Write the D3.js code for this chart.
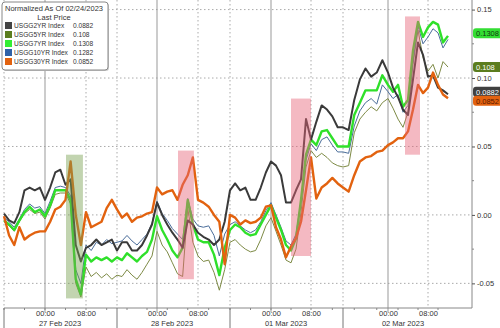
<!DOCTYPE html>
<html>
<head>
<meta charset="utf-8">
<script src="https://cdn.jsdelivr.net/npm/d3@7"></script>
<style>
  body { margin: 0; background: #fff; }
  svg { display: block; font-family: "Liberation Sans", Arial, sans-serif; }
</style>
</head>
<body>
<svg width="500" height="328"></svg>
<script>
// session hours (hourly samples, 22h trading sessions per day)
let hours = d3.range(0, 87)

let usgg2 = [0.001,-0.004,-0.006,0.002,0.018,0.020,0.018,0.020,0.011,0.020,
  0.031,0.033,0.022,0.026,-0.022,-0.034,-0.024,-0.022,-0.018,-0.022,
  -0.020,-0.018,-0.026,-0.020,-0.020,-0.026,-0.026,-0.022,-0.015,-0.007,
  0.009,0.000,-0.007,-0.013,-0.018,-0.024,-0.004,-0.007,-0.013,-0.016,
  -0.018,-0.022,-0.018,-0.005,0.018,0.023,0.018,0.020,0.011,0.011,
  0.020,0.031,0.039,0.036,0.029,0.009,0.009,0.018,0.026,0.070,
  0.055,0.068,0.080,0.077,0.072,0.064,0.064,0.062,0.084,0.099,
  0.107,0.101,0.104,0.113,0.104,0.093,0.086,0.077,0.073,0.099,
  0.126,0.117,0.101,0.102,0.093,0.091,0.0882]

let usgg5 = [-0.005,-0.008,-0.012,-0.005,0.001,0.004,0.001,0.002,-0.003,0.005,
  0.015,0.016,0.016,0.008,-0.050,-0.060,-0.038,-0.045,-0.042,-0.046,
  -0.043,-0.047,-0.044,-0.045,-0.040,-0.044,-0.047,-0.042,-0.036,-0.030,
  -0.012,-0.022,-0.027,-0.035,-0.043,-0.045,0.005,-0.020,-0.030,-0.034,
  -0.033,-0.042,-0.055,-0.040,-0.020,-0.018,-0.022,-0.025,-0.027,-0.026,
  -0.018,-0.008,-0.002,-0.012,-0.022,-0.033,-0.035,-0.025,0.002,0.035,
  0.047,0.042,0.045,0.042,0.038,0.036,0.035,0.036,0.060,0.070,
  0.075,0.079,0.076,0.082,0.085,0.078,0.070,0.064,0.075,0.110,
  0.135,0.115,0.105,0.110,0.100,0.112,0.108]

let usgg7 = [-0.004,-0.007,-0.011,-0.004,0.002,0.006,0.002,0.004,-0.001,0.007,
  0.018,0.018,0.018,0.011,-0.047,-0.058,-0.029,-0.034,-0.031,-0.033,
  -0.031,-0.034,-0.031,-0.033,-0.028,-0.031,-0.034,-0.030,-0.027,-0.018,
  -0.001,-0.011,-0.018,-0.026,-0.031,-0.024,0.011,-0.007,-0.018,-0.020,
  -0.020,-0.029,-0.044,-0.024,-0.011,-0.007,-0.009,-0.013,-0.015,-0.014,
  -0.007,0.000,0.007,-0.002,-0.011,-0.022,-0.026,-0.017,0.011,0.044,
  0.055,0.051,0.061,0.062,0.056,0.050,0.050,0.050,0.073,0.082,
  0.091,0.091,0.091,0.102,0.095,0.090,0.095,0.079,0.084,0.120,
  0.141,0.130,0.137,0.141,0.139,0.126,0.1308]

let usgg10 = [-0.002,-0.005,-0.009,-0.003,0.004,0.008,0.005,0.006,0.001,0.010,
  0.020,0.021,0.020,0.014,-0.040,-0.050,-0.022,-0.026,-0.020,-0.022,
  -0.018,-0.021,-0.020,-0.019,-0.015,-0.019,-0.022,-0.018,-0.014,-0.006,
  0.010,0.001,-0.004,-0.010,-0.014,-0.018,0.012,-0.003,-0.008,-0.009,
  -0.008,-0.015,-0.030,-0.014,-0.007,-0.005,-0.008,-0.011,-0.013,-0.011,
  -0.005,0.003,0.009,0.000,-0.009,-0.019,-0.022,-0.014,0.010,0.040,
  0.052,0.047,0.055,0.057,0.051,0.046,0.046,0.045,0.065,0.076,
  0.082,0.085,0.081,0.095,0.090,0.085,0.088,0.075,0.080,0.112,
  0.138,0.125,0.130,0.136,0.133,0.122,0.1282]

let usgg30 = [-0.001,-0.015,-0.022,-0.009,-0.018,-0.015,-0.013,-0.012,-0.012,-0.005,
  0.004,0.006,0.011,0.039,0.000,-0.022,0.002,-0.009,-0.007,-0.005,
  0.005,0.011,0.004,-0.002,0.001,-0.005,-0.002,-0.001,0.001,0.002,
  0.020,0.015,0.017,0.018,0.011,0.022,0.029,0.042,0.011,0.009,
  0.006,0.000,-0.005,-0.036,0.000,-0.002,-0.007,-0.004,-0.006,-0.005,
  -0.002,0.006,0.007,-0.009,-0.018,-0.031,-0.023,-0.017,-0.005,0.018,
  0.042,0.012,0.020,0.023,0.027,0.023,0.020,0.017,0.029,0.039,
  0.042,0.043,0.046,0.047,0.051,0.053,0.056,0.056,0.061,0.077,
  0.095,0.089,0.093,0.104,0.095,0.088,0.0852]

let dayStarts = [0, 22, 44, 66]
let midnights = [8, 30, 52, 74]
let mornings = [16, 38, 60, 82]
let dayLabels = ['27 Feb 2023', '28 Feb 2023', '01 Mar 2023', '02 Mar 2023']
let yTicks = [-0.05, 0, 0.05, 0.10, 0.15]
let yMinor = [-0.025, 0.025, 0.075, 0.125]

// shaded boxes: [hourFrom, hourTo, valueLow, valueHigh]
let boxes = [
  [12.1, 15.4, -0.061, 0.044, 'green'],
  [34.1, 37.2, -0.047, 0.047, 'pink'],
  [56.0, 60.0, -0.030, 0.085, 'pink'],
  [77.4, 80.4, 0.044, 0.145, 'pink']
]

let series = [
  { name: 'USGG5YR Index', values: usgg5, color: '#7d8a45', legend: '#5b7d1e', width: 1, tag: '#5b7d1e', text: '#fff' },
  { name: 'USGG10YR Index', values: usgg10, color: '#4a6d9a', legend: '#2f62a8', width: 1, tag: '#2f62a8', text: '#fff' },
  { name: 'USGG7YR Index', values: usgg7, color: '#2fe02a', legend: '#33ee33', width: 2.4, tag: '#33dd33', text: '#103810' },
  { name: 'USGG2YR Index', values: usgg2, color: '#3a3a3a', legend: '#444', width: 2, tag: '#404040', text: '#fff' },
  { name: 'USGG30YR Index', values: usgg30, color: '#e2620f', legend: '#e2620f', width: 2.4, tag: '#e2620f', text: '#5a1800' }
]
let legendOrder = ['USGG2YR Index', 'USGG5YR Index', 'USGG7YR Index', 'USGG10YR Index', 'USGG30YR Index']

let svg = d3.select('svg')

let x = d3.scaleLinear()
  .domain([0, 8, 16, 22, 30, 38, 44, 52, 60, 66, 74, 82, 90])
  .range([4, 45, 86, 117, 157, 198, 230, 271, 311, 343, 388, 428, 468])
let y = d3.scaleLinear().domain([-0.068, 0.157]).range([308, 0])

let plotR = 472, plotB = 308

// grid
let grid = svg.append('g')
grid.selectAll('line.h')
  .data(yTicks)
  .enter()
  .append('line')
  .attr('x1', 4).attr('x2', plotR)
  .attr('y1', d => y(d)).attr('y2', d => y(d))
  .attr('stroke', '#aaa')
  .attr('stroke-dasharray', '1.5,2.5')
grid.selectAll('line.dv')
  .data(dayStarts.concat(mornings))
  .enter()
  .append('line')
  .attr('x1', d => x(d)).attr('x2', d => x(d))
  .attr('y1', 0).attr('y2', plotB)
  .attr('stroke', '#aaa')
  .attr('stroke-dasharray', '1.5,2.5')
grid.selectAll('line.mid')
  .data(midnights)
  .enter()
  .append('line')
  .attr('x1', d => x(d)).attr('x2', d => x(d))
  .attr('y1', 0).attr('y2', plotB + 4)
  .attr('stroke', '#999')

// lines
let line = d3.line()
  .x((d, i) => x(hours[i]))
  .y(d => y(d))

svg.append('g').selectAll('path')
  .data(series)
  .enter()
  .append('path')
  .attr('d', d => line(d.values))
  .attr('fill', 'none')
  .attr('stroke', d => d.color)
  .attr('stroke-width', d => d.width)
  .attr('stroke-linejoin', 'round')

// highlight boxes
svg.append('g').selectAll('rect')
  .data(boxes)
  .enter()
  .append('rect')
  .attr('x', d => x(d[0]))
  .attr('width', d => x(d[1]) - x(d[0]))
  .attr('y', d => y(d[3]))
  .attr('height', d => y(d[2]) - y(d[3]))
  .attr('fill', d => d[4] == 'green' ? 'rgb(120,160,80)' : 'rgb(230,100,120)')
  .attr('opacity', 0.45)

// right axis
let yAxis = svg.append('g')
  .attr('transform', 'translate(' + plotR + ',0)')
  .call(d3.axisRight(y).tickValues(yTicks).tickSize(3).tickPadding(2)
    .tickFormat(d => d3.format('.2f')(d).replace('−', '-')))
yAxis.select('.domain').attr('stroke', '#888').attr('d', 'M0,0V' + plotB)
yAxis.selectAll('line').attr('stroke', '#555')
yAxis.selectAll('text').attr('font-size', 7.5).attr('fill', '#333')
svg.append('g')
  .attr('transform', 'translate(' + plotR + ',0)')
  .selectAll('line')
  .data(yMinor)
  .enter()
  .append('line')
  .attr('x1', 0).attr('x2', 2)
  .attr('y1', d => y(d)).attr('y2', d => y(d))
  .attr('stroke', '#888')

// bottom axis
let tickHours = d3.range(0, 88, 4)
let xAxis = svg.append('g')
  .attr('transform', 'translate(0,' + plotB + ')')
  .call(d3.axisBottom(x).tickValues(midnights.concat(mornings)).tickSize(0).tickPadding(3)
    .tickFormat(d => midnights.includes(d) ? '00:00' : '08:00'))
xAxis.select('.domain').attr('stroke', '#888').attr('d', 'M4,0H' + plotR)
xAxis.selectAll('text').attr('font-size', 7.5).attr('fill', '#333')
svg.append('g').selectAll('line')
  .data(tickHours)
  .enter()
  .append('line')
  .attr('x1', d => x(d)).attr('x2', d => x(d))
  .attr('y1', plotB).attr('y2', plotB + 2)
  .attr('stroke', '#888')
svg.append('g').selectAll('line')
  .data(dayStarts)
  .enter()
  .append('line')
  .attr('x1', d => x(d)).attr('x2', d => x(d))
  .attr('y1', plotB).attr('y2', 328)
  .attr('stroke', '#777')
svg.append('g').selectAll('text')
  .data(dayLabels)
  .enter()
  .append('text')
  .text(d => d)
  .attr('x', (d, i) => x(midnights[i]) + 15)
  .attr('y', 326)
  .attr('text-anchor', 'middle')
  .attr('font-size', 7.5)
  .attr('fill', '#333')

// last value tags
let tags = series.map(s => ({ s: s, v: s.values[s.values.length - 1], y: y(s.values[s.values.length - 1]) }))
tags.sort((a, b) => a.y - b.y)
for (let i = 1; i < tags.length; i++) {
  let gap = tags[i].y - tags[i - 1].y
  if (gap < 9) {
    let shift = (9 - gap) / 2
    tags[i - 1].y -= shift
    tags[i].y += shift
  }
}
let tagDraw = ['USGG10YR Index', 'USGG7YR Index', 'USGG5YR Index', 'USGG2YR Index', 'USGG30YR Index']
let tagG = svg.append('g').selectAll('g')
  .data(tags.filter(t => t.s.name != 'USGG10YR Index').sort((a, b) => tagDraw.indexOf(a.s.name) - tagDraw.indexOf(b.s.name)))
  .enter()
  .append('g')
  .attr('transform', d => 'translate(' + (plotR + 1) + ',' + d.y + ')')
tagG.append('rect')
  .attr('x', 0).attr('y', -5)
  .attr('width', 30).attr('height', 10)
  .attr('rx', 3)
  .attr('fill', d => d.s.tag)
tagG.append('text')
  .text(d => String(d.v))
  .attr('x', 3).attr('y', 3)
  .attr('font-size', 7.5)
  .attr('fill', d => d.s.text)

// legend
let legend = svg.append('g').attr('transform', 'translate(2,2)')
legend.append('rect')
  .attr('x', 1).attr('y', 1)
  .attr('width', 106).attr('height', 68)
  .attr('rx', 3)
  .attr('fill', '#ccc')
legend.append('rect')
  .attr('width', 106).attr('height', 68)
  .attr('rx', 3)
  .attr('fill', '#fff')
  .attr('stroke', '#888')
legend.append('text')
  .text('Normalized As Of 02/24/2023')
  .attr('x', 52).attr('y', 9)
  .attr('text-anchor', 'middle')
  .attr('font-size', 7.5)
  .attr('fill', '#333')
legend.append('text')
  .text('Last Price')
  .attr('x', 52).attr('y', 18)
  .attr('text-anchor', 'middle')
  .attr('font-size', 7.5)
  .attr('fill', '#333')
let legendData = legendOrder.map(n => series.find(s => s.name == n))
legend.selectAll('rect.key')
  .data(legendData)
  .enter()
  .append('rect')
  .attr('class', 'key')
  .attr('x', 3).attr('y', (d, i) => 20 + 9 * i)
  .attr('width', 7).attr('height', 7)
  .attr('fill', d => d.legend)
legend.selectAll('text.name')
  .data(legendData)
  .enter()
  .append('text')
  .attr('class', 'name')
  .text(d => d.name)
  .attr('x', 12).attr('y', (d, i) => 26 + 9 * i)
  .attr('font-size', 6.6)
  .attr('fill', '#333')
legend.selectAll('text.val')
  .data(legendData)
  .enter()
  .append('text')
  .attr('class', 'val')
  .text(d => String(d.values[d.values.length - 1]))
  .attr('x', 71).attr('y', (d, i) => 26 + 9 * i)
  .attr('font-size', 6.6)
  .attr('fill', '#333')
</script>
</body>
</html>
